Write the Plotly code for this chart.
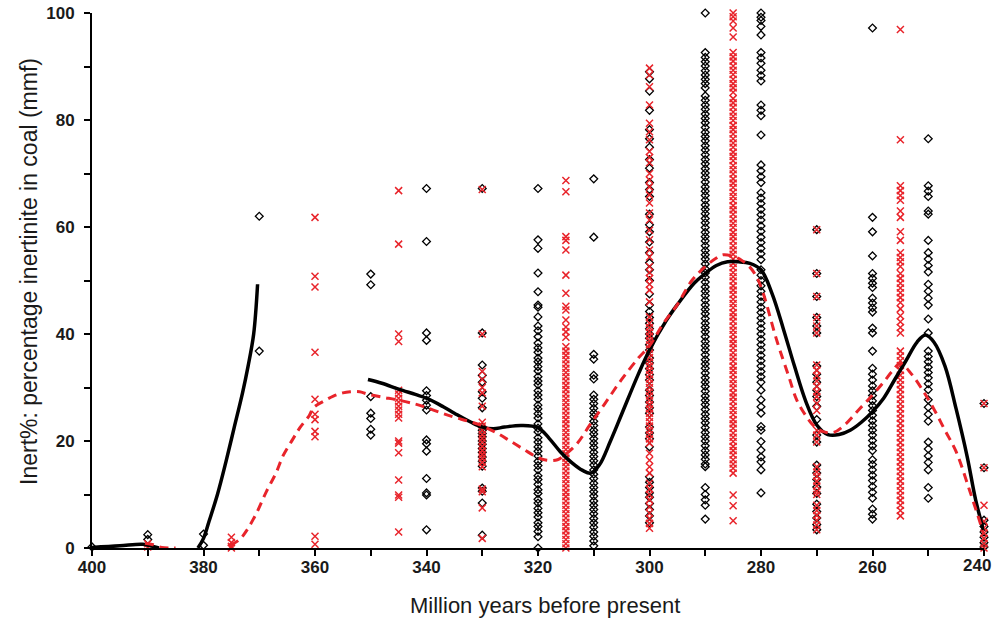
import plotly.graph_objects as go

# ---- scatter data: Inert% values per sample age (Ma) ----
# black diamonds
b400 = [0.2]
b390 = [2.5, 1.6]
b380 = [2.6, 0.5]
b370 = [62.0, 36.8]
b350 = [51.2, 49.2, 28.3, 25.2, 24.2, 22.2, 21.1]
b340 = [67.2, 57.3, 40.2, 38.8, 29.4, 28.5, 27.6, 26.7, 25.8, 20.2, 19.5, 18.1, 13.0, 10.3, 9.9, 3.4]
b330 = [67.2, 40.2, 34.2, 32.3, 31.0, 29.2, 28.0, 26.2, 22.6, 22.0, 21.4, 20.8, 20.0, 19.4,
        18.6, 17.9, 17.0, 16.2, 15.3, 11.2, 10.6, 8.4, 2.4]
b320 = [67.2, 57.6, 56.0, 51.4, 47.9, 45.4, 45.0, 43.2, 41.5, 40.6, 39.5, 38.3, 37.4, 36.6, 35.5,
        34.8, 33.9, 33.1, 32.0, 31.2, 30.5, 29.4, 28.6, 27.8, 26.7, 26.0, 25.1, 24.3, 23.2, 22.4,
        21.7, 20.6, 19.8, 18.9, 18.1, 17.2, 16.2, 15.4, 14.6, 13.5, 12.8, 11.9, 10.9, 10.2, 9.1,
        8.4, 7.4, 6.6, 5.8, 4.7, 4.0, 3.1, 2.1, 0.0]
b310 = [69.0, 58.1, 36.2, 35.3, 32.3, 31.6, 28.6, 27.8, 27.0, 26.1, 25.3, 24.6, 23.7, 22.9, 22.0,
        21.3, 20.4, 19.6, 18.8, 17.9, 17.1, 16.3, 15.5, 14.6, 13.8, 13.0, 12.1, 11.3, 10.5, 9.7,
        8.8, 8.0, 7.2, 6.4, 5.5, 4.7, 3.9, 3.0, 2.2, 1.3, 0.4]
b300 = [89.0, 87.7, 85.4, 81.8, 78.2, 76.5, 74.9, 72.6, 71.0, 68.3, 67.0, 65.7, 62.4, 60.4, 59.1,
        57.2, 55.2, 53.3, 52.0, 50.0, 47.5, 45.4, 44.2, 43.1, 42.0, 41.0, 40.0, 39.2, 38.0, 37.0,
        35.5, 34.6, 33.5, 32.4, 31.4, 29.5, 28.5, 27.3, 26.2, 25.2, 22.6, 21.5, 20.4, 18.9, 13.3,
        12.3, 11.3, 10.3, 9.5, 8.3, 7.2, 6.0, 4.7]
b290 = [100.0, 92.6, 91.7, 90.9, 90.1, 89.2, 88.4, 87.6, 86.8, 86.0, 84.5, 83.7, 82.8, 82.0, 81.1,
        80.3, 79.5, 78.6, 77.7, 76.9, 76.1, 75.2, 74.4, 73.5, 72.6, 71.8, 70.9, 70.1, 69.3, 68.4,
        67.5, 66.7, 65.9, 65.0, 64.1, 63.3, 62.5, 61.6, 60.8, 59.9, 59.0, 58.2, 57.4, 56.5, 55.6,
        54.8, 54.0, 53.1, 52.2, 51.4, 50.6, 49.7, 48.8, 48.0, 47.2, 46.3, 45.4, 44.6, 43.8, 42.9,
        42.0, 41.2, 40.4, 39.5, 38.6, 37.8, 37.0, 36.1, 35.2, 34.4, 33.6, 32.7, 31.8, 31.0, 30.2,
        29.3, 28.4, 27.6, 26.8, 25.9, 25.0, 24.2, 23.4, 22.5, 21.6, 20.8, 20.0, 19.1, 18.2, 17.4,
        16.6, 15.7, 15.2, 11.3, 10.0, 9.0, 8.0, 5.4]
b280 = [100.0, 99.2, 98.6, 97.5, 95.9, 92.6, 91.6, 90.6, 89.3, 88.3, 87.3, 82.8, 81.8, 80.8, 77.2,
        71.6, 70.5, 69.4, 68.3, 66.4, 65.4, 64.4, 63.3, 62.3, 61.3, 60.2, 59.2, 58.1, 57.1, 56.0,
        55.0, 53.9, 52.0, 51.0, 50.0, 49.0, 48.0, 47.0, 46.0, 45.0, 44.0, 43.0, 42.0, 41.0, 40.0,
        39.0, 38.0, 37.0, 36.0, 35.0, 34.0, 33.0, 32.0, 31.0, 29.5, 27.7, 26.4, 25.2, 22.7, 22.0,
        19.9, 18.3, 17.0, 16.1, 14.6, 10.3]
b270 = [59.5, 51.3, 47.0, 43.1, 41.5, 40.2, 34.0, 32.5, 31.0, 29.5, 28.3, 26.5, 24.0, 21.1, 19.8,
        15.5, 14.0, 12.8, 11.4, 10.2, 8.2, 6.8, 5.6, 4.4, 3.4]
b260 = [97.2, 61.8, 59.1, 54.6, 51.3, 50.4, 49.5, 48.7, 46.7, 45.8, 44.9, 44.1, 41.1, 40.2, 36.8,
        33.6, 32.5, 31.4, 30.3, 29.4, 28.5, 27.5, 26.6, 25.7, 24.8, 23.8, 22.9, 22.0, 21.1, 20.1,
        19.1, 18.2, 16.5, 15.6, 14.6, 13.6, 12.6, 11.5, 10.4, 9.3, 7.3, 6.3, 5.4]
b250 = [76.5, 67.7, 66.7, 65.7, 63.0, 62.4, 57.5, 55.2, 54.0, 52.8, 51.6, 49.3, 48.0, 46.7, 45.4,
        42.8, 40.2, 36.8, 35.8, 34.8, 33.8, 32.8, 31.8, 30.7, 29.6, 27.7, 26.3, 25.0, 23.7, 19.8,
        18.5, 17.2, 16.0, 14.6, 11.3, 9.3]
b240 = [27.0, 15.0, 5.2, 4.0, 3.0, 2.0, 1.0, 0.2]

# red crosses
r390 = [0.8, 0.2]
r375 = [2.0, 1.0, 0.3, 0.0]
r360 = [61.8, 50.8, 48.8, 36.6, 27.8, 25.0, 24.0, 21.8, 20.8, 2.2, 0.7]
r345 = [66.8, 56.8, 40.0, 38.6, 29.5, 28.8, 28.0, 27.3, 26.5, 25.8, 25.0, 24.3, 20.0, 19.6, 17.8,
        12.7, 9.9, 9.5, 3.0]
r330 = [67.0, 40.0, 33.0, 31.5, 30.0, 29.0, 26.5, 23.5, 22.8, 22.0, 21.2, 20.5, 19.8, 19.0, 18.2,
        17.5, 16.8, 16.0, 15.2, 11.0, 10.5, 7.5, 1.8]
r315 = [68.7, 66.6, 58.2, 57.5, 55.7, 51.0, 47.6, 45.2, 44.5, 42.6, 41.3, 40.4, 39.4, 37.6, 36.8,
        36.0, 35.2, 34.4, 33.6, 32.8, 32.0, 31.2, 30.4, 29.6, 28.8, 28.0, 27.2, 26.4, 25.6, 24.8,
        24.0, 23.2, 22.4, 21.6, 20.8, 20.0, 19.2, 18.4, 17.6, 16.8, 16.0, 15.2, 14.4, 13.6, 12.8,
        12.0, 11.2, 10.4, 9.6, 8.8, 8.0, 7.2, 6.4, 5.6, 4.8, 4.0, 3.2, 2.4, 1.6, 0.8, 0.0]
r300 = [89.7, 88.4, 86.2, 82.8, 79.4, 77.8, 76.3, 74.1, 73.0, 72.0, 70.0, 68.8, 67.5, 66.0, 64.5,
        62.6, 61.3, 59.4, 57.6, 55.7, 54.4, 52.6, 51.5, 50.4, 49.3, 48.2, 46.0, 43.2, 42.0, 41.2,
        40.4, 39.6, 38.8, 38.0, 37.2, 36.4, 35.6, 34.8, 34.0, 33.2, 32.4, 31.6, 30.8, 30.0, 29.2,
        28.4, 27.6, 26.8, 26.0, 25.2, 24.4, 23.6, 22.8, 22.0, 21.2, 20.4, 19.6, 17.7, 16.4, 15.2,
        14.0, 12.1, 11.0, 10.0, 9.0, 7.7, 6.5, 5.5, 4.6, 3.7]
r285 = [100.0, 99.3, 98.5, 97.2, 95.5, 92.6, 91.8, 91.0, 90.1, 89.3, 88.5, 87.6, 86.8, 86.0, 85.2,
        84.0, 83.2, 82.4, 81.5, 80.7, 79.9, 79.0, 78.2, 77.4, 76.5, 75.7, 74.9, 74.0, 73.2, 72.4,
        71.5, 70.7, 69.9, 69.0, 68.2, 67.4, 66.5, 65.7, 64.9, 64.0, 63.2, 62.4, 61.5, 60.7, 59.9,
        59.0, 58.2, 57.4, 56.5, 55.7, 54.9, 54.0, 53.2, 52.4, 51.5, 50.7, 49.9, 49.0, 48.2, 47.4,
        46.5, 45.7, 44.9, 44.0, 43.2, 42.4, 41.5, 40.7, 39.9, 39.0, 38.2, 37.4, 36.5, 35.7, 34.9,
        34.0, 33.2, 32.4, 31.5, 30.7, 29.9, 29.0, 28.2, 27.4, 26.5, 25.7, 24.9, 24.0, 23.2, 22.4,
        21.5, 20.7, 19.9, 19.0, 18.2, 17.4, 16.5, 15.7, 14.9, 14.0, 9.9, 7.9, 5.1]
r270 = [59.5, 51.3, 47.0, 43.1, 41.5, 40.2, 34.2, 33.2, 32.2, 31.2, 30.2, 29.2, 28.3, 27.0, 25.7,
        22.0, 21.1, 19.8, 15.2, 14.2, 13.4, 12.5, 11.6, 10.6, 10.0, 8.0, 7.0, 6.1, 5.2, 4.3, 3.4]
r255 = [96.9, 76.3, 67.7, 66.8, 65.9, 65.0, 63.0, 61.8, 59.1, 57.5, 55.2, 54.3, 53.5, 52.6, 51.3,
        50.4, 49.5, 48.6, 47.7, 46.8, 45.9, 44.7, 43.4, 42.3, 41.2, 40.2, 36.8, 35.9, 35.0, 34.1,
        33.2, 32.3, 31.4, 30.5, 29.6, 28.7, 27.8, 26.9, 26.0, 25.1, 24.2, 23.3, 22.4, 21.5, 20.6,
        19.7, 18.8, 17.9, 17.0, 16.1, 15.2, 14.3, 13.4, 12.5, 11.6, 10.7, 9.8, 8.9, 8.0, 7.0, 6.0]
r240 = [27.0, 15.0, 8.0, 5.0, 3.8, 2.8, 1.8, 0.8, 0.0]

black_cols = [(400, b400), (390, b390), (380, b380), (370, b370), (350, b350), (340, b340),
              (330, b330), (320, b320), (310, b310), (300, b300), (290, b290), (280, b280),
              (270, b270), (260, b260), (250, b250), (240, b240)]
red_cols = [(390, r390), (375, r375), (360, r360), (345, r345), (330, r330), (315, r315),
            (300, r300), (285, r285), (270, r270), (255, r255), (240, r240)]

# x tick labels (the last one is drawn as an annotation so it stays inside the page)
x_ticks = [400, 380, 360, 340, 320, 300, 280, 260, 240]
x_ticktext = ["400", "380", "360", "340", "320", "300", "280", "260", ""]
x_last_label = "240"
y_ticks = [0, 20, 40, 60, 80, 100]

# ---- smoothed trend lines ----
bl1_x = [400, 395, 391, 389.5, 388]
bl1_y = [0.1, 0.4, 0.7, 0.4, 0.0]
bl2_x = [381.0, 380.0, 379.0, 377.5, 376.0, 374.5, 373.0, 372.0, 371.0, 370.3]
bl2_y = [0.0, 1.8, 5.0, 10.0, 16.0, 22.5, 29.0, 34.0, 40.0, 49.3]
bl3_x = [350.5, 348, 345, 342, 340, 337, 335, 332, 330, 328, 326, 323, 320, 318, 316, 314, 312,
         310.5, 309, 307, 305, 302, 300, 297, 295, 292, 290, 288, 286, 284, 282, 280, 278, 276,
         274, 272, 270, 268, 266, 264, 262, 260, 258, 256, 254, 252, 250.5, 249, 247, 245, 243,
         241.5, 240]
bl3_y = [31.5, 30.8, 29.7, 28.7, 28.0, 26.4, 25.2, 23.5, 22.6, 22.3, 22.6, 22.9, 22.5, 20.5,
         18.0, 16.0, 14.5, 14.0, 15.5, 20.0, 25.0, 32.5, 37.0, 42.5, 45.5, 49.5, 51.3, 52.8, 53.5,
         53.5, 53.2, 52.0, 47.5, 41.0, 34.0, 27.5, 23.0, 21.2, 21.2, 22.0, 23.5, 25.5, 28.0, 31.5,
         35.0, 38.5, 39.8, 38.5, 34.0, 26.0, 17.0, 9.0, 3.0]
rl1_x = [390.5, 389, 387.5, 386, 385]
rl1_y = [0.9, 0.6, 0.1, 0.0, 0.0]
rl2_x = [375.2, 373.5, 372.3, 370.5, 368.7, 367, 365.7, 364, 362.7, 361, 360.3, 358.5, 356.7,
         355, 353.7, 352, 350.7, 348, 345.3, 342, 340.4, 337.5, 335.2, 332.5, 330.4, 327.4, 325,
         322.5, 320.2, 318.4, 316.5, 315.2, 313, 310.7, 308, 305, 302, 300, 297.5, 295, 292.4,
         290, 288, 286.8, 285, 283.5, 282, 280.8, 279.6, 277.2, 275, 273.6, 272, 270.5, 269, 267,
         265, 262.5, 260, 258, 256.5, 255, 253, 251, 249, 247, 245, 242.5, 240]
rl2_y = [0.5, 1.6, 3.2, 6.5, 10.6, 14.0, 17.3, 20.3, 22.5, 24.8, 26.2, 27.4, 28.4, 29.0, 29.2,
         29.2, 28.8, 28.2, 27.7, 26.9, 26.4, 25.3, 24.5, 23.7, 23.0, 21.5, 20.0, 18.4, 17.0, 16.4,
         16.5, 17.4, 19.5, 23.0, 27.0, 31.5, 35.5, 37.8, 42.0, 45.5, 50.0, 52.6, 54.2, 54.8, 54.5,
         53.8, 52.5, 50.7, 47.6, 38.9, 32.0, 27.7, 24.8, 22.8, 21.8, 21.6, 23.0, 25.8, 28.6, 31.0,
         33.0, 34.5, 32.5, 29.5, 26.0, 22.0, 18.0, 10.5, 2.5]

RED = "#e8242b"
INK = "#1a1a1a"

fig = go.Figure()

bx, by = [], []
for age, vals in black_cols:
    bx += [age] * len(vals)
    by += vals
rx, ry = [], []
for age, vals in red_cols:
    rx += [age] * len(vals)
    ry += vals

fig.add_trace(go.Scatter(x=bx, y=by, mode="markers", cliponaxis=False,
                         marker=dict(symbol="diamond-open", size=6, color="black",
                                     line=dict(width=1.3, color="black")),
                         showlegend=False))
fig.add_trace(go.Scatter(x=rx, y=ry, mode="markers", cliponaxis=False,
                         marker=dict(symbol="x-thin-open", size=7, color=RED,
                                     line=dict(width=1.5, color=RED)),
                         showlegend=False))

for lx, ly in [(bl1_x, bl1_y), (bl2_x, bl2_y), (bl3_x, bl3_y)]:
    fig.add_trace(go.Scatter(x=lx, y=ly, mode="lines", line=dict(color="black", width=3.5, shape="spline"),
                             showlegend=False, cliponaxis=False))
for lx, ly in [(rl1_x, rl1_y), (rl2_x, rl2_y)]:
    fig.add_trace(go.Scatter(x=lx, y=ly, mode="lines",
                             line=dict(color=RED, width=3, dash="9px,6px", shape="spline"),
                             showlegend=False, cliponaxis=False))

FAM = "Liberation Sans, Arial, sans-serif"
tickfont = dict(family=FAM, size=17, color=INK, weight="bold")

axis_common = dict(showgrid=False, zeroline=False, automargin=False,
                   showline=True, linecolor="black", linewidth=2,
                   ticks="outside", ticklen=6, tickwidth=2, tickcolor="black",
                   tickfont=tickfont)

fig.update_layout(
    width=995, height=618,
    margin=dict(l=92, r=11, t=13, b=70),
    paper_bgcolor="white", plot_bgcolor="white",
    xaxis=dict(range=[400, 240],
               tickvals=x_ticks, ticktext=x_ticktext,
               minor=dict(tickvals=[390, 370, 350, 330, 310, 290, 270, 250],
                          ticks="outside", ticklen=6, tickwidth=2, tickcolor="black"),
               ticklabelstandoff=-3,
               **axis_common),
    yaxis=dict(range=[0, 100],
               tickvals=y_ticks, ticktext=[str(v) for v in y_ticks],
               minor=dict(tickvals=[10, 30, 50, 70, 90],
                          ticks="outside", ticklen=6, tickwidth=2, tickcolor="black"),
               ticklabelstandoff=6,
               **axis_common),
    annotations=[
        dict(text=x_last_label, xref="x", yref="paper", x=x_ticks[-1], y=0,
             xanchor="right", yanchor="top", xshift=9, yshift=-6, showarrow=False,
             font=tickfont),
        dict(text="Million years before present", xref="paper", yref="paper",
             x=(545 - 92) / 892, y=(548 - 605) / 535, xanchor="center", yanchor="middle",
             showarrow=False, font=dict(family=FAM, size=22, color=INK)),
        dict(text="Inert%: percentage inertinite in coal (mmf)", xref="paper", yref="paper",
             x=(29 - 92) / 892, y=(548 - 272) / 535, xanchor="center", yanchor="middle",
             textangle=-90, showarrow=False, font=dict(family=FAM, size=23, color=INK)),
    ],
)

fig.write_html("out.html", config={"displayModeBar": False},
               post_script="document.body.style.margin='0';document.body.style.padding='0';"
                           "document.body.style.overflow='hidden';")
